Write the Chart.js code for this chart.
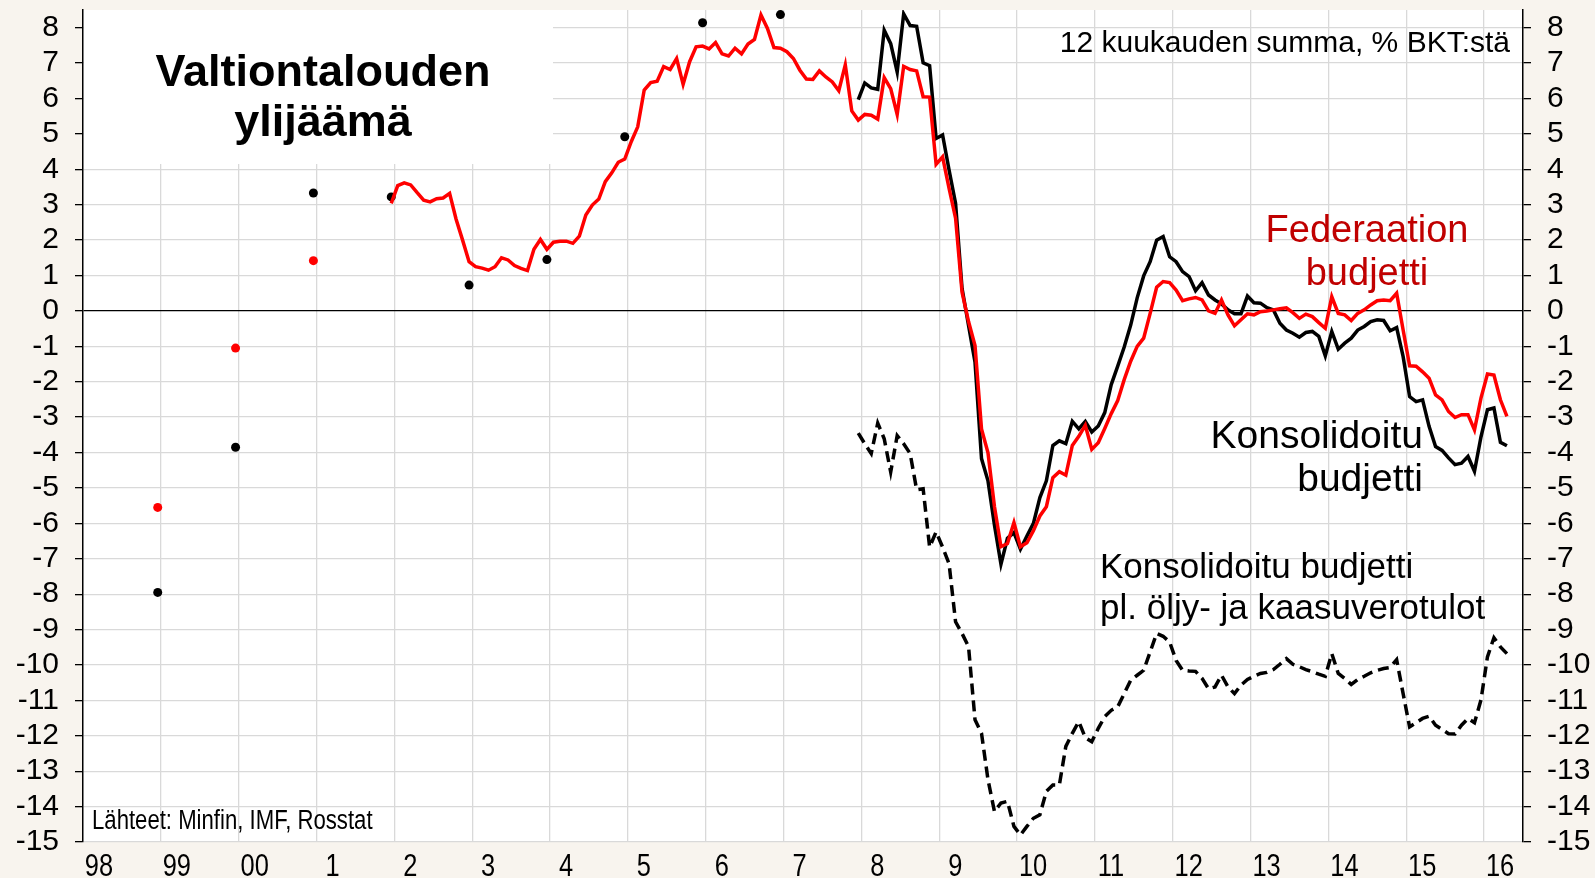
<!DOCTYPE html>
<html>
<head>
<meta charset="utf-8">
<script src="https://cdn.jsdelivr.net/npm/chart.js@4.4.1/dist/chart.umd.min.js"></script>
<style>
  html, body { margin: 0; padding: 0; background: #f8f4ee; }
  #wrap { width: 1595px; height: 878px; }
</style>
</head>
<body>
<div id="wrap"><canvas id="chart" width="1595" height="878"></canvas></div>
<script>
// x axis: years, labels sit a little to the right of each year line
const xTickYears = [1998, 1999, 2000, 2001, 2002, 2003, 2004, 2005, 2006, 2007, 2008, 2009, 2010, 2011, 2012, 2013, 2014, 2015, 2016];
const xTickLabels = ['98', '99', '00', '1', '2', '3', '4', '5', '6', '7', '8', '9', '10', '11', '12', '13', '14', '15', '16'];
const yTickValues = [-15, -14, -13, -12, -11, -10, -9, -8, -7, -6, -5, -4, -3, -2, -1, 0, 1, 2, 3, 4, 5, 6, 7, 8];

// annual figures (year-end)
const annualDates = [1998.96, 1999.96, 2000.96, 2001.96, 2002.96, 2003.96, 2004.96, 2005.96, 2006.96];
const fedAnnual = [-5.55, -1.05, 1.42];
const consAnnual = [-7.95, -3.85, 3.33, 3.22, 0.73, 1.45, 4.92, 8.14, 8.37];

// monthly 12-month sums, % of GDP
const fedStart = 2001.96;
const fedMonthly = [
  3.04, 3.54, 3.62, 3.56, 3.34, 3.13, 3.08, 3.17, 3.19, 3.32, 2.59, 2.0,
  1.39, 1.25, 1.21, 1.15, 1.25, 1.50, 1.44, 1.28, 1.20, 1.14, 1.74, 2.02,
  1.74, 1.94, 1.97, 1.97, 1.91, 2.11, 2.71, 2.99, 3.16, 3.65, 3.90, 4.20,
  4.29, 4.78, 5.20, 6.24, 6.45, 6.49, 6.90, 6.82, 7.13, 6.40, 7.04, 7.46,
  7.48, 7.40, 7.58, 7.26, 7.20, 7.42, 7.26, 7.54, 7.67, 8.36, 7.98, 7.44,
  7.42, 7.32, 7.13, 6.80, 6.55, 6.54, 6.78, 6.61, 6.47, 6.22, 6.95, 5.65,
  5.39, 5.55, 5.53, 5.42, 6.59, 6.28, 5.55, 6.91, 6.82, 6.78, 6.05, 6.04,
  4.14, 4.35, 3.46, 2.62, 0.53, -0.30, -0.98, -3.33, -4.01, -5.53, -6.66, -6.57,
  -5.98, -6.66, -6.55, -6.21, -5.79, -5.53, -4.71, -4.54, -4.64, -3.80, -3.54, -3.23,
  -3.91, -3.72, -3.32, -2.90, -2.53, -1.94, -1.42, -1.00, -0.77, -0.07, 0.67, 0.83,
  0.80, 0.59, 0.29, 0.34, 0.38, 0.31, 0.0, -0.07, 0.31, -0.11, -0.42, -0.25,
  -0.08, -0.11, -0.02, 0.0, 0.03, 0.06, 0.09, -0.05, -0.21, -0.09, -0.16, -0.33,
  -0.49, 0.40, -0.07, -0.11, -0.27, -0.07, 0.03, 0.17, 0.29, 0.31, 0.29, 0.50,
  -0.54, -1.55, -1.56, -1.72, -1.90, -2.37, -2.51, -2.84, -3.01, -2.93, -2.93, -3.36,
  -2.46, -1.78, -1.81, -2.51, -2.98
];

const consStart = 2007.96;
const consMonthly = [
  5.97, 6.44, 6.30, 6.26, 7.93, 7.55, 6.75, 8.39, 8.06, 8.04, 7.01, 6.93,
  4.87, 4.97, 3.98, 3.04, 0.64, -0.41, -1.45, -4.17, -4.80, -6.05, -7.15, -6.42,
  -6.26, -6.73, -6.36, -6.00, -5.27, -4.80, -3.80, -3.67, -3.75, -3.12, -3.33, -3.12,
  -3.42, -3.25, -2.87, -2.08, -1.56, -1.02, -0.40, 0.37, 0.99, 1.39, 2.0, 2.10,
  1.53, 1.39, 1.11, 0.97, 0.57, 0.80, 0.45, 0.31, 0.20, 0.03, -0.08, -0.08,
  0.42, 0.23, 0.22, 0.09, 0.03, -0.35, -0.54, -0.63, -0.74, -0.61, -0.58, -0.72,
  -1.27, -0.58, -1.08, -0.91, -0.77, -0.54, -0.44, -0.30, -0.25, -0.27, -0.56, -0.47,
  -1.29, -2.42, -2.56, -2.51, -3.26, -3.83, -3.94, -4.15, -4.34, -4.30, -4.11, -4.53,
  -3.56, -2.79, -2.74, -3.71, -3.81
];

// consolidated excluding oil and gas revenue
const nonOilMonthly = [
  -3.45, -3.75, -4.03, -3.17, -3.61, -4.55, -3.52, -3.75, -4.03, -5.05, -5.02, -6.67,
  -6.24, -6.67, -7.14, -8.78, -9.11, -9.48, -11.55, -11.93, -13.24, -14.14, -13.90, -13.85,
  -14.56, -14.80, -14.56, -14.33, -14.23, -13.57, -13.39, -13.39, -12.30, -11.93, -11.60, -12.05,
  -12.17, -11.79, -11.46, -11.28, -11.18, -10.81, -10.43, -10.29, -10.15, -9.63, -9.11, -9.19,
  -9.35, -9.87, -10.15, -10.17, -10.18, -10.38, -10.67, -10.62, -10.29, -10.62, -10.81, -10.57,
  -10.41, -10.32, -10.24, -10.21, -10.13, -9.98, -9.82, -9.98, -10.05, -10.13, -10.19, -10.26,
  -10.32, -9.68, -10.24, -10.38, -10.55, -10.41, -10.32, -10.22, -10.15, -10.10, -10.07, -9.85,
  -10.81, -11.75, -11.63, -11.51, -11.45, -11.70, -11.82, -11.94, -11.95, -11.70, -11.51, -11.63,
  -10.99, -9.77, -9.23, -9.49, -9.68
];

const monthly = (start, values) => values.map((v, i) => ({ x: start + i / 12, y: v }));
const annual = values => values.map((v, i) => ({ x: annualDates[i], y: v }));

const CREAM = '#f8f4ee';
const GRID = '#d9d9d9';
const SANS = "'Liberation Sans', Arial, sans-serif";
const NARROW = 0.82; // no Arial Narrow installed, squeeze Liberation Sans instead

function narrowText(ctx, text, x, y, scale) {
  ctx.save();
  ctx.translate(x, y);
  ctx.scale(scale, 1);
  ctx.fillText(text, 0, 0);
  ctx.restore();
}

const backdrop = {
  id: 'backdrop',
  beforeDraw(chart) {
    const { ctx, chartArea: a } = chart;
    ctx.save();
    ctx.fillStyle = CREAM;
    ctx.fillRect(0, 0, chart.width, chart.height);
    ctx.fillStyle = '#fff';
    ctx.fillRect(a.left, a.top, a.right - a.left, a.bottom - a.top);
    ctx.restore();
  },
  beforeDatasetsDraw(chart) {
    // white box behind the title hides the grid
    const { ctx, chartArea: a } = chart;
    ctx.save();
    ctx.fillStyle = '#fff';
    ctx.fillRect(a.left + 1, a.top, 553 - a.left - 1, 164 - a.top);
    ctx.restore();
  }
};

const texts = {
  id: 'texts',
  afterDatasetsDraw(chart) {
    const ctx = chart.ctx;
    ctx.save();
    ctx.textBaseline = 'alphabetic';

    ctx.fillStyle = '#000';
    ctx.font = 'bold 45px ' + SANS;
    ctx.textAlign = 'center';
    ctx.fillText('Valtiontalouden', 323, 86);
    ctx.fillText('ylijäämä', 323, 136);

    ctx.font = '30px ' + SANS;
    ctx.textAlign = 'right';
    ctx.fillText('12 kuukauden summa, % BKT:stä', 1510, 52);

    ctx.fillStyle = '#c00000';
    ctx.font = '38px ' + SANS;
    ctx.textAlign = 'center';
    ctx.fillText('Federaation', 1367, 242);
    ctx.fillText('budjetti', 1367, 285);

    ctx.fillStyle = '#000';
    ctx.font = '39px ' + SANS;
    ctx.textAlign = 'right';
    ctx.fillText('Konsolidoitu', 1423, 448);
    ctx.fillText('budjetti', 1423, 491);

    ctx.font = '35px ' + SANS;
    ctx.textAlign = 'left';
    ctx.fillText('Konsolidoitu budjetti', 1100, 578);
    ctx.fillText('pl. öljy- ja kaasuverotulot', 1100, 619);

    ctx.font = '27px ' + SANS;
    narrowText(ctx, 'Lähteet: Minfin, IMF, Rosstat', 92, 829, NARROW);

    // year labels, placed through the x scale
    const xs = chart.scales.x;
    ctx.font = '31px ' + SANS;
    ctx.textAlign = 'center';
    xTickYears.forEach((yr, i) => {
      narrowText(ctx, xTickLabels[i], xs.getPixelForValue(yr) + 16, 876, NARROW);
    });
    ctx.restore();
  }
};

const yAxis = {
  min: -15,
  max: 8.5,
  afterBuildTicks: axis => { axis.ticks = yTickValues.map(v => ({ value: v })); },
  ticks: {
    autoSkip: false,
    color: '#000',
    padding: 16,
    font: { family: SANS, size: 30 },
    callback: v => String(v)
  }
};

new Chart(document.getElementById('chart'), {
  type: 'line',
  data: {
    datasets: [
      {
        label: 'Federaation budjetti',
        data: monthly(fedStart, fedMonthly),
        borderColor: '#ff0000',
        borderWidth: 3.5,
        pointRadius: 0
      },
      {
        label: 'Konsolidoitu budjetti',
        data: monthly(consStart, consMonthly),
        borderColor: '#000',
        borderWidth: 3.5,
        pointRadius: 0
      },
      {
        label: 'Konsolidoitu budjetti pl. öljy- ja kaasuverotulot',
        data: monthly(consStart, nonOilMonthly),
        borderColor: '#000',
        borderWidth: 3.5,
        borderDash: [11, 6],
        pointRadius: 0
      },
      {
        label: 'Federaatio, vuosi',
        data: annual(fedAnnual),
        showLine: false,
        pointRadius: 4.5,
        pointBackgroundColor: '#ff0000',
        pointBorderWidth: 0
      },
      {
        label: 'Konsolidoitu, vuosi',
        data: annual(consAnnual),
        showLine: false,
        pointRadius: 4.5,
        pointBackgroundColor: '#000',
        pointBorderWidth: 0
      }
    ]
  },
  options: {
    responsive: false,
    devicePixelRatio: 1,
    animation: false,
    layout: { padding: { top: 10, left: 0, right: 0, bottom: 0 } },
    elements: { line: { tension: 0 } },
    plugins: {
      legend: { display: false },
      tooltip: { enabled: false }
    },
    scales: {
      x: {
        type: 'linear',
        min: 1998,
        max: 2016.5,
        afterBuildTicks: axis => { axis.ticks = xTickYears.map(v => ({ value: v })); },
        afterFit: scale => {
          scale.height = 36;
          scale.paddingLeft = 0;
          scale.paddingRight = 0;
        },
        border: { display: false },
        grid: {
          drawTicks: false,
          lineWidth: 1.3,
          color: c => (c.tick && c.tick.value === 1998 ? 'rgba(0,0,0,0)' : GRID)
        },
        ticks: { display: false }
      },
      y: {
        ...yAxis,
        position: 'left',
        afterFit: scale => {
          scale.width = 83;
          scale.paddingTop = 0;
          scale.paddingBottom = 0;
        },
        border: { color: '#000', width: 1.5 },
        grid: {
          lineWidth: 1.3,
          tickLength: 8,
          tickColor: '#000',
          color: c => (c.tick && c.tick.value === 0 ? '#000' : GRID)
        }
      },
      y2: {
        ...yAxis,
        position: 'right',
        afterFit: scale => {
          scale.width = 72;
          scale.paddingTop = 0;
          scale.paddingBottom = 0;
        },
        border: { color: '#000', width: 1.5 },
        grid: {
          drawOnChartArea: false,
          lineWidth: 1.3,
          tickLength: 8,
          tickColor: '#000'
        }
      }
    }
  },
  plugins: [backdrop, texts]
});
</script>
</body>
</html>
